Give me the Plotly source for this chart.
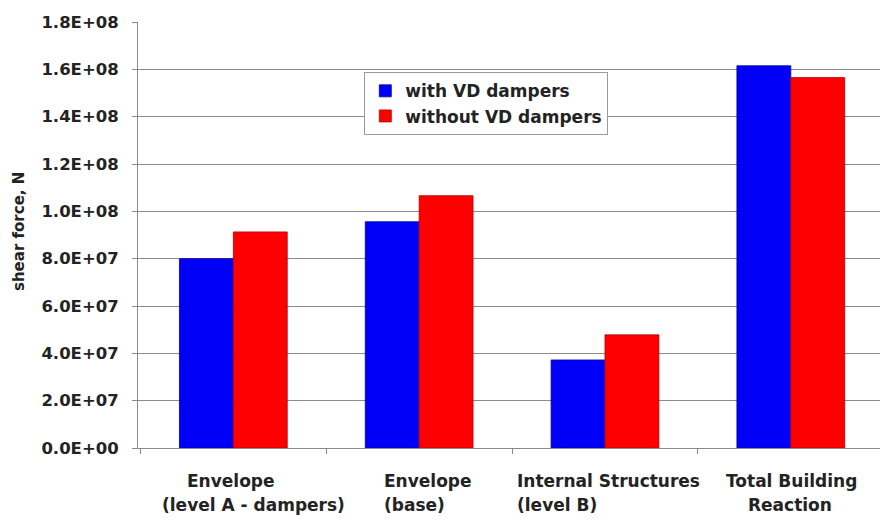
import plotly.graph_objects as go

categories = ["Envelope (level A - dampers)", "Envelope (base)",
              "Internal Structures (level B)", "Total Building Reaction"]
label_line1 = ["Envelope", "Envelope", "Internal Structures", "Total Building"]
label_line2 = ["(level A - dampers)", "(base)", "(level B)", "Reaction"]
series_names = ["with VD dampers", "without VD dampers"]
with_vd = [8.0e7, 9.56e7, 3.72e7, 1.615e8]
without_vd = [9.13e7, 1.066e8, 4.78e7, 1.565e8]
y_ticks = [0, 2e7, 4e7, 6e7, 8e7, 1e8, 1.2e8, 1.4e8, 1.6e8, 1.8e8]
y_tick_text = ["0.0E+00", "2.0E+07", "4.0E+07", "6.0E+07", "8.0E+07",
               "1.0E+08", "1.2E+08", "1.4E+08", "1.6E+08", "1.8E+08"]
grid_vals = y_ticks[1:-1]  # no gridline drawn at the top of the axis

# style for category label placement (anchor, shift line1, shift line2)
label_anchor = ["center", "left", "left", "center"]
label_shift1 = [-2, -37, -90, 1]
label_shift2 = [20, -37, -90, -1]

FONT = "DejaVu Sans, sans-serif"
TXT = "#232323"

fig = go.Figure()
fig.add_trace(go.Bar(x=categories, y=with_vd, name="<b>" + series_names[0] + "</b>",
                     marker=dict(color="#0000F8", line=dict(color="#00009a", width=0.8))))
fig.add_trace(go.Bar(x=categories, y=without_vd, name="<b>" + series_names[1] + "</b>",
                     marker=dict(color="#FF0000", line=dict(color="#b00000", width=0.8))))

for cat, l1, l2, anc, s1, s2 in zip(categories, label_line1, label_line2,
                                    label_anchor, label_shift1, label_shift2):
    for txt, sh, ys in ((l1, s1, -33), (l2, s2, -57)):
        fig.add_annotation(x=cat, y=0, xref="x", yref="paper", yanchor="middle",
                           xanchor=anc, yshift=ys, xshift=sh, text="<b>" + txt + "</b>",
                           showarrow=False,
                           font=dict(family=FONT, size=17, color=TXT))

fig.add_annotation(x=0, y=0.5, xref="paper", yref="paper", xanchor="center",
                   yanchor="middle", xshift=-119, yshift=3, textangle=-90,
                   text="<b>shear force, N</b>", showarrow=False,
                   font=dict(family=FONT, size=15, color=TXT))

fig.update_layout(
    width=880, height=524,
    margin=dict(l=138, r=0, t=22, b=76),
    paper_bgcolor="white", plot_bgcolor="white",
    barmode="group", bargap=0.42, bargroupgap=0,
    font=dict(family=FONT, size=16, color=TXT),
    showlegend=True,
    legend=dict(x=0.305, y=0.882, xanchor="left", yanchor="top",
                bgcolor="white", bordercolor="#9a9a9a", borderwidth=1,
                font=dict(family=FONT, size=17, color=TXT),
                itemwidth=30, tracegroupgap=0, traceorder="normal"),
    xaxis=dict(range=[-0.513, 3.48], showticklabels=False, showline=True,
               linecolor="#8a8a8a", linewidth=1, ticks="outside",
               tickson="boundaries", ticklen=5, tickcolor="#8a8a8a",
               showgrid=False, automargin=False),
    yaxis=dict(range=[0, 1.8e8], tickvals=y_ticks,
               ticktext=["<b>" + t + "</b>" for t in y_tick_text],
               showline=True, linecolor="#8a8a8a", linewidth=1,
               ticks="outside", ticklen=5, tickcolor="#8a8a8a",
               ticklabelstandoff=10,
               showgrid=False,
               minor=dict(tickmode="array", tickvals=grid_vals, showgrid=True,
                          gridcolor="#8c8c8c", gridwidth=1, ticks=""),
               zeroline=False, automargin=False,
               tickfont=dict(family=FONT, size=16.5, color=TXT)),
)

fig.write_html("out.html", config={"displayModeBar": False},
               post_script="document.body.style.margin='0';document.body.style.padding='0';")
